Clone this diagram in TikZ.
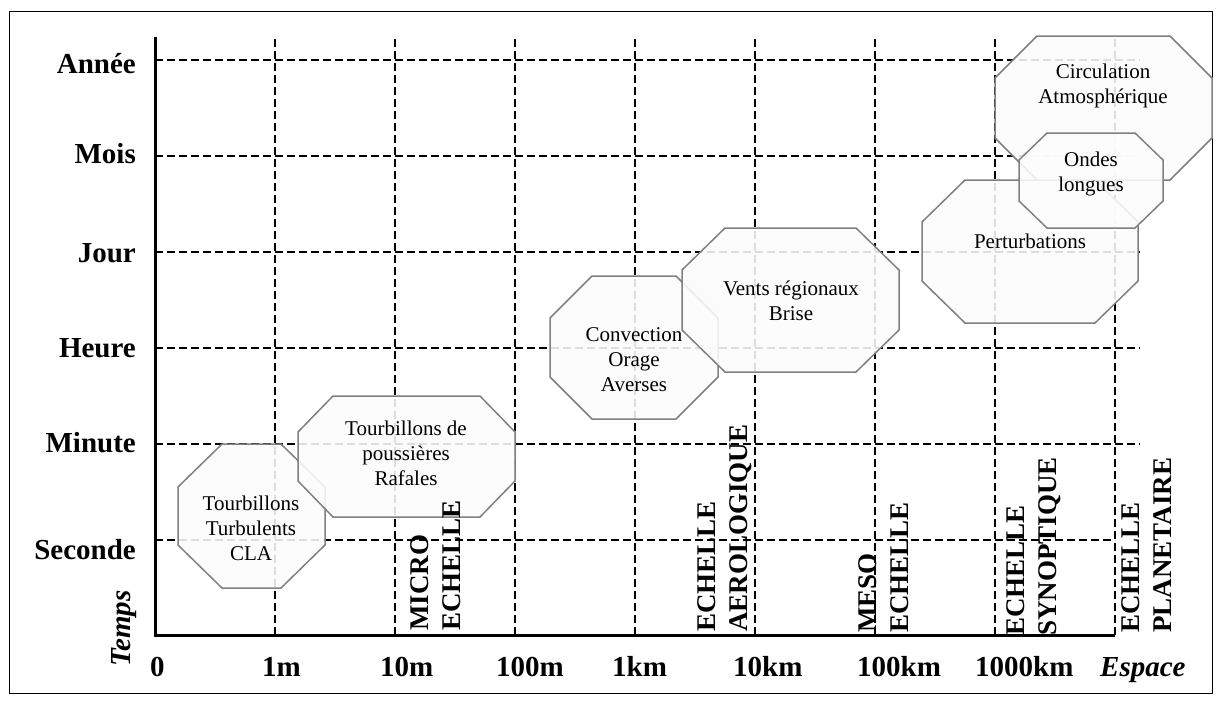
\documentclass[tikz,border=0pt]{standalone}
\usepackage{fontspec}
\setmainfont{Liberation Serif}
\begin{document}
\begin{tikzpicture}[x=1pt,y=-1pt,
  gridline/.style={black, line width=1.3pt, dash pattern=on 8pt off 4pt},
  axisline/.style={black, line width=3pt},
  octo/.style={draw=black!50, line width=1.5pt, fill=black!1, fill opacity=0.88, text opacity=1},
  octtext/.style={align=center, font=\fontsize{21}{25}\selectfont, inner sep=0pt},
  lab/.style={font=\fontsize{29}{34}\selectfont\bfseries, inner sep=0pt},
  vlab/.style={font=\fontsize{27}{32}\selectfont\bfseries, inner sep=0pt, rotate=90, anchor=north west, align=left},
]
\useasboundingbox (0,0) rectangle (1220,704);
\fill[white] (0,0) rectangle (1220,704);
\draw[line width=1pt] (9,11) rectangle (1212,693);

\newcommand\octpath[6]{%
  \draw[octo] ({#1+#5},#2) -- ({#3-#5},#2) -- (#3,{#2+#6}) -- (#3,{#4-#6}) -- ({#3-#5},#4) -- ({#1+#5},#4) -- (#1,{#4-#6}) -- (#1,{#2+#6}) -- cycle;}

% grid
\foreach \gx in {275,395,515,635,755,875,995,1115}
  \draw[gridline] (\gx,39) -- (\gx,635);
\foreach \gy in {60,156,252,348,444}
  \draw[gridline] (155,\gy) -- (1140,\gy);
\draw[gridline] (155,540) -- (1115,540);

% axes
\coordinate (O) at (155,635);
\coordinate (ytop) at (155,37);
\coordinate (xend) at (1115,635);
\draw[axisline] (ytop) -- (O) -- (xend);

% octagons
\octpath{178}{444}{325}{588}{44}{43}
\octpath{298}{396}{515}{517}{35}{36}
\octpath{550}{276}{718}{419}{42}{42}
\octpath{682}{228}{899}{372}{43}{42}
\octpath{922}{180}{1138}{323}{43}{42}
\octpath{995}{36}{1212}{180}{42}{42}
\octpath{1019}{133}{1163}{228}{28}{27}

\node[octtext] (cla) at (251,528) {Tourbillons\\Turbulents\\CLA};
\node[octtext] (raf) at (406,453) {Tourbillons de\\poussières\\Rafales};
\node[octtext] (conv) at (634,360) {Convection\\Orage\\Averses};
\node[octtext] (vents) at (791,300.5) {Vents régionaux\\Brise};
\node[octtext] (pert) at (1030,241) {Perturbations};
\node[octtext] (circ) at (1103,85.6) {Circulation\\Atmosphérique};
\node[octtext] (ondes) at (1091,173.6) {Ondes\\longues};

% time labels
\node[lab, anchor=base east] (annee) at (136,73) {Année};
\node[lab, anchor=base east] (mois) at (136,163) {Mois};
\node[lab, anchor=base east] (jour) at (136,262) {Jour};
\node[lab, anchor=base east] (heure) at (136,357) {Heure};
\node[lab, anchor=base east] (minute) at (136,452) {Minute};
\node[lab, anchor=base east] (seconde) at (136,559) {Seconde};
\node[lab, rotate=90, anchor=north west, font=\fontsize{29}{34}\selectfont\bfseries\itshape] (temps) at (111,667) {Temps};

% space labels
\node[lab, anchor=base west] (l0) at (150,676) {0};
\node[lab, anchor=base west] (l1m) at (262,676) {1m};
\node[lab, anchor=base west] (l10m) at (380,676) {10m};
\node[lab, anchor=base west] (l100m) at (496,676) {100m};
\node[lab, anchor=base west] (l1km) at (612,676) {1km};
\node[lab, anchor=base west] (l10km) at (733,676) {10km};
\node[lab, anchor=base west] (l100km) at (857,676) {100km};
\node[lab, anchor=base west] (l1000km) at (975,676) {1000km};
\node[lab, anchor=base west, font=\fontsize{29}{34}\selectfont\bfseries\itshape] (espace) at (1100,676) {Espace};

% scale labels
\node[vlab] (micro) at (410,631) {MICRO\\ECHELLE};
\node[vlab] (aero) at (697,632) {ECHELLE\\AEROLOGIQUE};
\node[vlab] (meso) at (858,633) {MESO\\ECHELLE};
\node[vlab] (syn) at (1006,636) {ECHELLE\\SYNOPTIQUE};
\node[vlab] (plan) at (1121,633) {ECHELLE\\PLANETAIRE};
\end{tikzpicture}
\end{document}
